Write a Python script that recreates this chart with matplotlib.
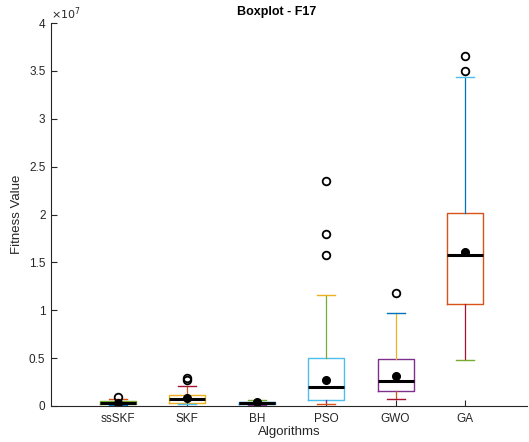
import matplotlib.pyplot as plt

plt.rcParams['font.family'] = ['Liberation Sans', 'DejaVu Sans']

algorithms = ['ssSKF', 'SKF', 'BH', 'PSO', 'GWO', 'GA']

# box statistics (x 1e7)
whislo = [0.010, 0.020, 0.010, 0.018, 0.073, 0.477]
q1 = [0.020, 0.030, 0.020, 0.063, 0.157, 1.065]
med = [0.031, 0.073, 0.030, 0.195, 0.264, 1.580]
q3 = [0.047, 0.115, 0.042, 0.498, 0.488, 2.012]
whishi = [0.078, 0.209, 0.063, 1.159, 0.971, 3.436]
means = [0.035, 0.083, 0.037, 0.268, 0.313, 1.608]
outliers = [
    [0.094],
    [0.270, 0.290],
    [],
    [1.58, 1.80, 2.35],
    [1.177],
    [3.50, 3.655],
]

# matlab default colour order
blue, orange, yellow = '#0072BD', '#D95319', '#EDB120'
purple, green, lblue, dred = '#7E2F8E', '#77AC30', '#4DBEEE', '#A2142F'

box_col = [green, yellow, blue, lblue, purple, orange]
lo_whisk_col = [blue, blue, purple, purple, orange, dred]
hi_whisk_col = [orange, orange, green, green, yellow, blue]
lo_cap_col = [blue, lblue, purple, orange, dred, green]
hi_cap_col = [orange, dred, green, yellow, blue, lblue]

scale = 1e7
stats = []
for i in range(len(algorithms)):
    stats.append({
        'whislo': whislo[i] * scale, 'q1': q1[i] * scale, 'med': med[i] * scale,
        'q3': q3[i] * scale, 'whishi': whishi[i] * scale, 'mean': means[i] * scale,
        'fliers': [v * scale for v in outliers[i]],
    })

fig = plt.figure(figsize=(5.29, 4.42), dpi=100)
ax = fig.add_axes([51 / 529, 36 / 442, 476 / 529, 383 / 442])

bp = ax.bxp(stats, positions=range(1, 7), widths=0.52, showmeans=True,
            boxprops=dict(linewidth=1.0),
            whiskerprops=dict(linewidth=0.9),
            medianprops=dict(color='black', linewidth=2.2),
            meanprops=dict(marker='o', markerfacecolor='black',
                           markeredgecolor='black', markersize=5.5),
            flierprops=dict(marker='o', markerfacecolor='none',
                            markeredgecolor='black', markersize=5.5,
                            markeredgewidth=1.3))

for i in range(len(algorithms)):
    bp['boxes'][i].set_color(box_col[i])
    bp['whiskers'][2 * i].set_color(lo_whisk_col[i])
    bp['whiskers'][2 * i + 1].set_color(hi_whisk_col[i])
    bp['caps'][2 * i].set_color(lo_cap_col[i])
    bp['caps'][2 * i + 1].set_color(hi_cap_col[i])
    bp['caps'][2 * i].set_linewidth(1.0)
    bp['caps'][2 * i + 1].set_linewidth(1.0)

ax.set_xlim(0.035, 6.894)
ax.set_ylim(0, 4e7)
ax.set_xticks(range(1, 7))
ax.set_xticklabels(algorithms)
ax.set_yticks([i * 0.5e7 for i in range(9)])
ax.set_yticklabels(['0', '0.5', '1', '1.5', '2', '2.5', '3', '3.5', '4'])

gray = '#262626'
for s in ['top', 'right']:
    ax.spines[s].set_visible(False)
for s in ['left', 'bottom']:
    ax.spines[s].set_color(gray)
    ax.spines[s].set_linewidth(0.8)
ax.tick_params(direction='in', length=4, width=0.8, colors=gray,
               labelsize=8.5)
ax.tick_params(axis='x', pad=5)
ax.tick_params(axis='y', pad=4)

ax.text(0.0, 1.003, r'$\times10^{7}$', transform=ax.transAxes, fontsize=8,
        color=gray, ha='left', va='bottom')
ax.text(0.475, 1.012, 'Boxplot - F17', transform=ax.transAxes, fontsize=9,
        fontweight='bold', ha='center', va='bottom')
ax.set_xlabel('Algorithms', fontsize=9.5, color=gray, labelpad=1)
ax.set_ylabel('Fitness Value', fontsize=9.5, color=gray, labelpad=4)

fig.savefig('out.png', dpi=100)
